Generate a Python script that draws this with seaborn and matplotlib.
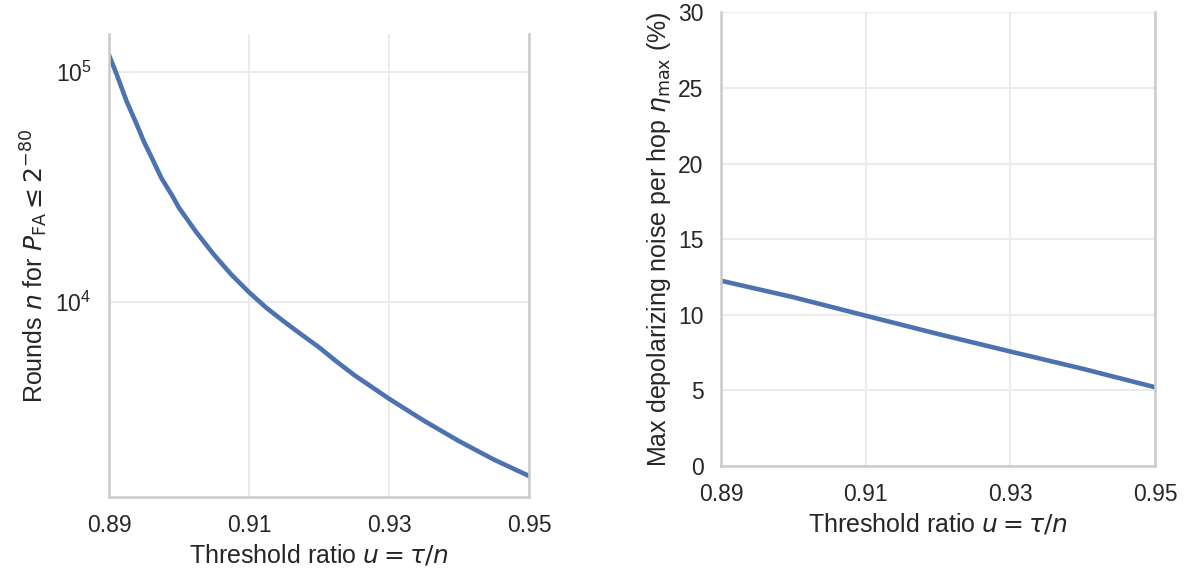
import numpy as np
import pandas as pd
import matplotlib
matplotlib.use("Agg")
import matplotlib.pyplot as plt
import seaborn as sns

# ---- data ----
u_rounds = [0.89, 0.891, 0.8925, 0.894, 0.895, 0.896, 0.8975, 0.899, 0.90,
            0.9025, 0.905, 0.9075, 0.91, 0.9125, 0.915, 0.9175, 0.92,
            0.9225, 0.925, 0.93, 0.935, 0.94, 0.945, 0.95]
n_rounds = [1.18e5, 9.9e4, 7.45e4, 5.86e4, 4.95e4, 4.29e4, 3.44e4, 2.9e4,
            2.56e4, 2.0e4, 1.6e4, 1.31e4, 1.10e4, 9.4e3, 8.2e3, 7.2e3, 6.34e3,
            5.5e3, 4.81e3, 3.79e3, 3.04e3, 2.48e3, 2.06e3, 1.75e3]

u_noise = [0.89, 0.90, 0.91, 0.92, 0.93, 0.94, 0.95]
eta_max = [12.25, 11.16, 9.94, 8.73, 7.57, 6.43, 5.21]

x_ticks = [0.89, 0.91, 0.93, 0.95]
x_tick_labels = ["0.89", "0.91", "0.93", "0.95"]
y_ticks_right = [0, 5, 10, 15, 20, 25, 30]

xlabel = r"Threshold ratio $u = \tau/n$"
ylabel_left = r"Rounds $n$ for $P_{\mathrm{FA}} \leq 2^{-80}$"
ylabel_right = r"Max depolarizing noise per hop $\eta_{\max}$ (%)"

# ---- style ----
sns.set_theme(context="talk", style="whitegrid")
plt.rcParams["font.family"] = ["Liberation Sans", "DejaVu Sans"]
plt.rcParams["mathtext.fontset"] = "dejavusans"
plt.rcParams["grid.color"] = "0.92"
plt.rcParams["axes.edgecolor"] = "0.8"
plt.rcParams["text.color"] = "0.15"
plt.rcParams["axes.labelcolor"] = "0.15"
plt.rcParams["xtick.color"] = "0.15"
plt.rcParams["ytick.color"] = "0.15"

color = sns.color_palette("deep")[0]

W, H = 1190, 574
fig = plt.figure(figsize=(W / 100, H / 100), dpi=100)

def px_axes(x0, y0, x1, y1):
    return fig.add_axes([x0 / W, 1 - y1 / H, (x1 - x0) / W, (y1 - y0) / H])

ax1 = px_axes(109, 34, 529, 497)
ax2 = px_axes(721, 12.3, 1155, 466)

df1 = pd.DataFrame({"u": u_rounds, "n": n_rounds})
df2 = pd.DataFrame({"u": u_noise, "eta": eta_max})

sns.lineplot(data=df1, x="u", y="n", ax=ax1, color=color, lw=3.3)
ax1.set_yscale("log")
ax1.set_xlim(0.89, 0.95)
ax1.set_xticks(x_ticks)
ax1.set_xticklabels(x_tick_labels)
ax1.set_xlabel(xlabel)
ax1.set_ylabel(ylabel_left)
ax1.grid(True, which="major")
ax1.grid(False, which="minor")
ax1.spines["top"].set_visible(False)

sns.lineplot(data=df2, x="u", y="eta", ax=ax2, color=color, lw=3.3)
ax2.set_xlim(0.89, 0.95)
ax2.set_ylim(0, 30)
ax2.set_xticks(x_ticks)
ax2.set_xticklabels(x_tick_labels)
ax2.set_yticks(y_ticks_right)
ax2.set_xlabel(xlabel)
ax2.set_ylabel(ylabel_right)
ax2.spines["top"].set_visible(False)

fig.savefig("out.png", dpi=100)
